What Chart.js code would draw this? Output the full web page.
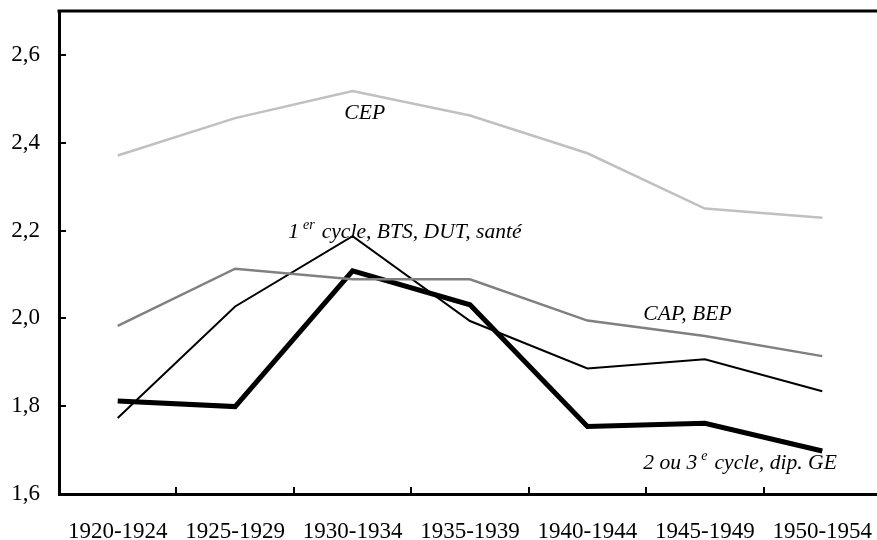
<!DOCTYPE html>
<html>
<head>
<meta charset="utf-8">
<script src="https://cdn.jsdelivr.net/npm/chart.js@4.4.1/dist/chart.umd.min.js"></script>
<style>
  html, body { margin: 0; padding: 0; background: #fff; overflow: hidden; }
  #wrap { width: 877px; height: 540px; overflow: hidden; }
</style>
</head>
<body>
<div id="wrap"><canvas id="chart" width="885" height="540"></canvas></div>
<script>
// Données
const periods = ['1920-1924', '1925-1929', '1930-1934', '1935-1939', '1940-1944', '1945-1949', '1950-1954'];
const cep = [2.371, 2.456, 2.518, 2.462, 2.376, 2.250, 2.229];
const capBep = [1.983, 2.113, 2.089, 2.089, 1.995, 1.960, 1.914];
const premierCycle = [1.773, 2.027, 2.187, 1.994, 1.886, 1.907, 1.834];
const deuxTroisCycle = [1.812, 1.799, 2.108, 2.031, 1.754, 1.761, 1.698];
const yTickValues = [1.6, 1.8, 2.0, 2.2, 2.4, 2.6];

// Étiquettes des courbes (position en index de catégorie / valeur)
const seriesLabels = [
    { parts: [['CEP', false]], x: 1.93, y: 2.468 },
    { parts: [['1', false], ['er', true], ['cycle, BTS, DUT, santé', false]], x: 1.452, y: 2.195 },
    { parts: [['CAP, BEP', false]], x: 4.476, y: 2.009 },
    { parts: [['2 ou 3', false], ['e', true], ['cycle, dip. GE', false]], x: 4.476, y: 1.670 }
];

const SERIF = '"Liberation Serif", "Times New Roman", serif';

// cadre supérieur + étiquettes en italique
const annotations = {
    id: 'annotations',
    afterDraw(chart) {
        const { ctx, chartArea, scales } = chart;
        ctx.save();
        ctx.strokeStyle = '#000';
        ctx.lineWidth = 3;
        ctx.beginPath();
        ctx.moveTo(chartArea.left - 1.5, chartArea.top);
        ctx.lineTo(chartArea.right + 10, chartArea.top);
        ctx.stroke();

        ctx.fillStyle = '#000';
        ctx.textBaseline = 'middle';
        ctx.textAlign = 'left';
        seriesLabels.forEach(lbl => {
            let px = scales.x.getPixelForValue(lbl.x);
            const py = scales.y.getPixelForValue(lbl.y);
            lbl.parts.forEach(([txt, sup]) => {
                if (sup) {
                    ctx.font = 'italic 14px ' + SERIF;
                    px += 4;
                    ctx.fillText(txt, px, py - 7);
                    px += ctx.measureText(txt).width + 7;
                } else {
                    ctx.font = 'italic 21.6px ' + SERIF;
                    ctx.fillText(txt, px, py);
                    px += ctx.measureText(txt).width;
                }
            });
        });
        ctx.restore();
    }
};

const ctx = document.getElementById('chart').getContext('2d');
new Chart(ctx, {
    type: 'line',
    data: {
        labels: periods,
        datasets: [
            { label: 'CEP', data: cep, borderColor: '#c0c0c0', borderWidth: 2.5 },
            { label: 'CAP, BEP', data: capBep, borderColor: '#808080', borderWidth: 2.5 },
            { label: '1er cycle, BTS, DUT, santé', data: premierCycle, borderColor: '#000', borderWidth: 2 },
            { label: '2 ou 3e cycle, dip. GE', data: deuxTroisCycle, borderColor: '#000', borderWidth: 5 }
        ]
    },
    options: {
        responsive: false,
        animation: false,
        layout: { padding: { left: 12, top: 11, right: 4, bottom: 0 } },
        elements: {
            point: { radius: 0 },
            line: { tension: 0, fill: false, borderJoinStyle: 'miter', borderCapStyle: 'butt' }
        },
        plugins: {
            legend: { display: false },
            tooltip: { enabled: false }
        },
        scales: {
            x: {
                offset: true,
                afterFit: scale => {
                    scale.height = 46;
                    scale.paddingLeft = 0;
                    scale.paddingRight = 0;
                },
                grid: { display: true, offset: true, drawOnChartArea: false, drawTicks: true, tickLength: -7, color: '#000', lineWidth: 2 },
                border: { display: true, color: '#000', width: 3 },
                ticks: { color: '#000', font: { family: SERIF, size: 23 }, padding: 31, maxRotation: 0, autoSkip: false }
            },
            y: {
                min: 1.6,
                max: 2.7,
                afterBuildTicks: scale => {
                    scale.ticks = yTickValues.map(v => ({ value: v }));
                },
                afterFit: scale => {
                    scale.width = 47;
                    scale.paddingTop = 0;
                    scale.paddingBottom = 0;
                },
                grid: { display: true, drawOnChartArea: false, drawTicks: true, tickLength: -7, color: '#000', lineWidth: 2 },
                border: { display: true, color: '#000', width: 3 },
                ticks: {
                    color: '#000',
                    font: { family: SERIF, size: 23 },
                    padding: 26,
                    callback: v => Number(v).toFixed(1).replace('.', ',')
                }
            }
        }
    },
    plugins: [annotations]
});
</script>
</body>
</html>
